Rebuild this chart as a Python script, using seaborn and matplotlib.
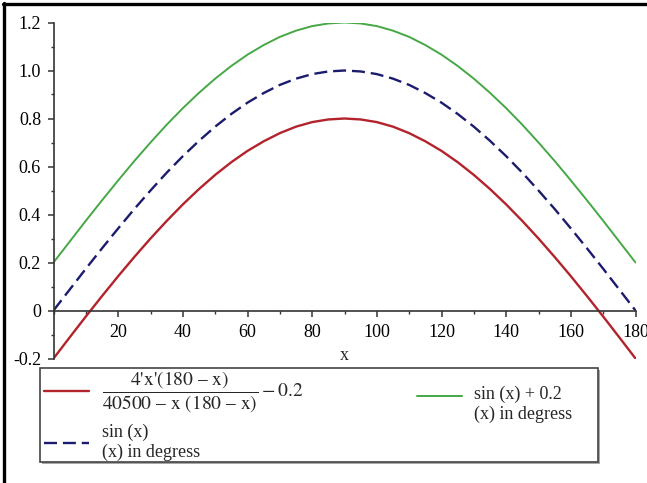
import numpy as np
import pandas as pd
import matplotlib
matplotlib.use('Agg')
import matplotlib.pyplot as plt
import matplotlib.ticker as mticker
from matplotlib.lines import Line2D
from matplotlib.patches import Rectangle
import seaborn as sns

sns.set_style('white')
plt.rcParams['font.family'] = ['Liberation Serif', 'DejaVu Serif']
plt.rcParams['mathtext.fontset'] = 'stix'
plt.rcParams['font.size'] = 13

# values, x in degrees every 5
x_deg = [0, 5, 10, 15, 20, 25, 30, 35, 40, 45, 50, 55, 60, 65, 70, 75, 80, 85, 90,
         95, 100, 105, 110, 115, 120, 125, 130, 135, 140, 145, 150, 155, 160, 165,
         170, 175, 180]
sin_x = [0.0, 0.087, 0.174, 0.259, 0.342, 0.423, 0.5, 0.574, 0.643, 0.707, 0.766,
         0.819, 0.866, 0.906, 0.94, 0.966, 0.985, 0.996, 1.0, 0.996, 0.985, 0.966,
         0.94, 0.906, 0.866, 0.819, 0.766, 0.707, 0.643, 0.574, 0.5, 0.423, 0.342,
         0.259, 0.174, 0.087, 0.0]
sin_x_plus = [0.2, 0.287, 0.374, 0.459, 0.542, 0.623, 0.7, 0.774, 0.843, 0.907,
              0.966, 1.019, 1.066, 1.106, 1.14, 1.166, 1.185, 1.196, 1.2, 1.196,
              1.185, 1.166, 1.14, 1.106, 1.066, 1.019, 0.966, 0.907, 0.843, 0.774,
              0.7, 0.623, 0.542, 0.459, 0.374, 0.287, 0.2]
bhaskara = [-0.2, -0.112, -0.025, 0.06, 0.143, 0.223, 0.3, 0.373, 0.442, 0.506,
            0.565, 0.618, 0.665, 0.705, 0.739, 0.766, 0.785, 0.796, 0.8, 0.796,
            0.785, 0.766, 0.739, 0.705, 0.665, 0.618, 0.565, 0.506, 0.442, 0.373,
            0.3, 0.223, 0.143, 0.06, -0.025, -0.112, -0.2]

y_ticks = [-0.2, 0, 0.2, 0.4, 0.6, 0.8, 1.0, 1.2]
y_ticklabels = ['-0.2', '0', '0.2', '0.4', '0.6', '0.8', '1.0', '1.2']
x_ticks = [20, 40, 60, 80, 100, 120, 140, 160, 180]

RED = '#b3232b'
NAVY = '#1c1c6e'
GREEN = '#45a845'

label_red = (r"$\dfrac{\text{4'x'(180 – x)}}{\text{40500 – x (180 – x)}} - 0.2$")
label_navy = 'sin (x)\n(x) in degress'
label_green = 'sin (x) + 0.2\n(x) in degress'

W, H = 647, 483
fig = plt.figure(figsize=(W / 100, H / 100), dpi=100)
ax = fig.add_axes([53.5 / W, (H - 358.5) / H, 582 / W, 336 / H])

sns.lineplot(x=x_deg, y=bhaskara, ax=ax, color=RED, lw=1.7, label=label_red)
sns.lineplot(x=x_deg, y=sin_x, ax=ax, color=NAVY, lw=1.7,
             linestyle=(0, (5.5, 2.5)), label=label_navy)
sns.lineplot(x=x_deg, y=sin_x_plus, ax=ax, color=GREEN, lw=1.4, label=label_green)

ax.set_xlim(0, 180)
ax.set_ylim(-0.2, 1.2)
for s in ['top', 'right']:
    ax.spines[s].set_visible(False)
ax.spines['bottom'].set_position(('data', 0))
for s in ['left', 'bottom']:
    ax.spines[s].set_color('#333333')
    ax.spines[s].set_linewidth(1.2)

ax.set_yticks(y_ticks)
ax.set_yticklabels(y_ticklabels)
ax.set_xticks(x_ticks)
ax.xaxis.set_minor_locator(mticker.MultipleLocator(10))
ax.yaxis.set_minor_locator(mticker.MultipleLocator(0.1))
ax.tick_params(which='major', direction='out', length=4, width=1.1, color='#333333',
               labelsize=13, labelcolor='black')
ax.tick_params(axis='y', which='major', pad=5)
ax.tick_params(axis='x', which='major', pad=6)
ax.tick_params(which='minor', direction='out', length=2.5, width=1.0, color='#333333')
ax.tick_params(bottom=True, left=True, which='both')
ax.set_xlabel('x', fontsize=13, labelpad=4)
ax.set_ylabel('')
ax.grid(False)

handles, labels = ax.get_legend_handles_labels()
ax.get_legend().remove()

# left column: red and navy entries
leg1 = fig.legend(handles[:2], labels[:2], loc='upper left',
                  bbox_to_anchor=(44 / W, 1 - 370 / H), frameon=False, borderpad=0,
                  borderaxespad=0, handlelength=2.5, handletextpad=0.7,
                  labelspacing=0.5, fontsize=13)
leg1.get_texts()[0].set_fontsize(14)

# right column: green entry, handle level with its first line
leg2 = fig.legend(handles[2:], labels[2:], loc='upper left',
                  bbox_to_anchor=(416.7 / W, 1 - 386 / H), frameon=False, borderpad=0,
                  borderaxespad=0, handlelength=2.5, handletextpad=0.7, fontsize=13)
gl = leg2.get_lines()[0]
gl.set_ydata(np.asarray(gl.get_ydata()) + 6.5)

# legend frame with shadow
fig.add_artist(Rectangle(((39.5 + 2) / W, (H - 462.3 - 2) / H), 558 / W, 94 / H,
                         transform=fig.transFigure, facecolor='#a8a8a8',
                         edgecolor='none', zorder=0.5))
fig.add_artist(Rectangle((39.5 / W, (H - 462.3) / H), 558 / W, 94 / H,
                         transform=fig.transFigure, facecolor='white',
                         edgecolor='#444444', lw=1.2, zorder=0.6))

# black border on top and left
fig.add_artist(Line2D([3 / W, 1], [1 - 4.3 / H, 1 - 4.3 / H], transform=fig.transFigure,
                      color='black', lw=2.4))
fig.add_artist(Line2D([4.3 / W, 4.3 / W], [0, 1 - 3 / H], transform=fig.transFigure,
                      color='black', lw=2.4))

fig.savefig('out.png', dpi=100)
